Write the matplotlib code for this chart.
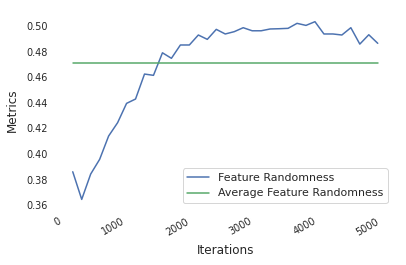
import matplotlib
matplotlib.use("Agg")
import matplotlib.pyplot as plt
import seaborn as sns

# iterations / metric values
iterations = [155, 296, 437, 578, 719, 860, 1001, 1142, 1283, 1424,
              1565, 1706, 1847, 1988, 2129, 2270, 2411, 2552, 2693, 2834,
              2975, 3116, 3257, 3398, 3539, 3680, 3821, 3962, 4103, 4244,
              4385, 4526, 4667, 4808, 4949]
feature_randomness = [0.3862, 0.3646, 0.3844, 0.3959, 0.4141, 0.4245, 0.4396, 0.4430, 0.4625, 0.4615,
                      0.4791, 0.4748, 0.4852, 0.4852, 0.4930, 0.4896, 0.4974, 0.4938, 0.4956, 0.4987,
                      0.4963, 0.4963, 0.4977, 0.4979, 0.4982, 0.5021, 0.5005, 0.5034, 0.4938, 0.4938,
                      0.4930, 0.4987, 0.4859, 0.4932, 0.4865]
average_randomness = 0.4713

sns.set_style("white")
pal = sns.color_palette("deep")

fig = plt.figure(figsize=(406 / 72, 265 / 72), dpi=72)
ax = fig.add_axes([0.1416, 0.214, 0.968 - 0.1416, 0.9517 - 0.214])

ax.plot(iterations, feature_randomness, color=pal[0], lw=1.5, label="Feature Randomness")
ax.plot(iterations, [average_randomness] * len(iterations), color=pal[2], lw=1.5,
        label="Average Feature Randomness")

ax.set_xlabel("Iterations", fontsize=12, color=".15", labelpad=7)
ax.set_ylabel("Metrics", fontsize=12, color=".15", labelpad=7)
ax.tick_params(axis="x", labelsize=9.8, colors=".15", length=0, pad=8)
ax.tick_params(axis="y", labelsize=9.8, colors=".15", length=0, pad=10)
plt.setp(ax.get_xticklabels(), rotation=30, ha="right")
ax.set_yticks([0.36, 0.38, 0.40, 0.42, 0.44, 0.46, 0.48, 0.50])
ax.set_xticks([0, 1000, 2000, 3000, 4000, 5000])
ax.legend(loc="lower right", fontsize=11)
sns.despine(ax=ax, left=True, bottom=True)

fig.savefig("out.png", dpi=72)
